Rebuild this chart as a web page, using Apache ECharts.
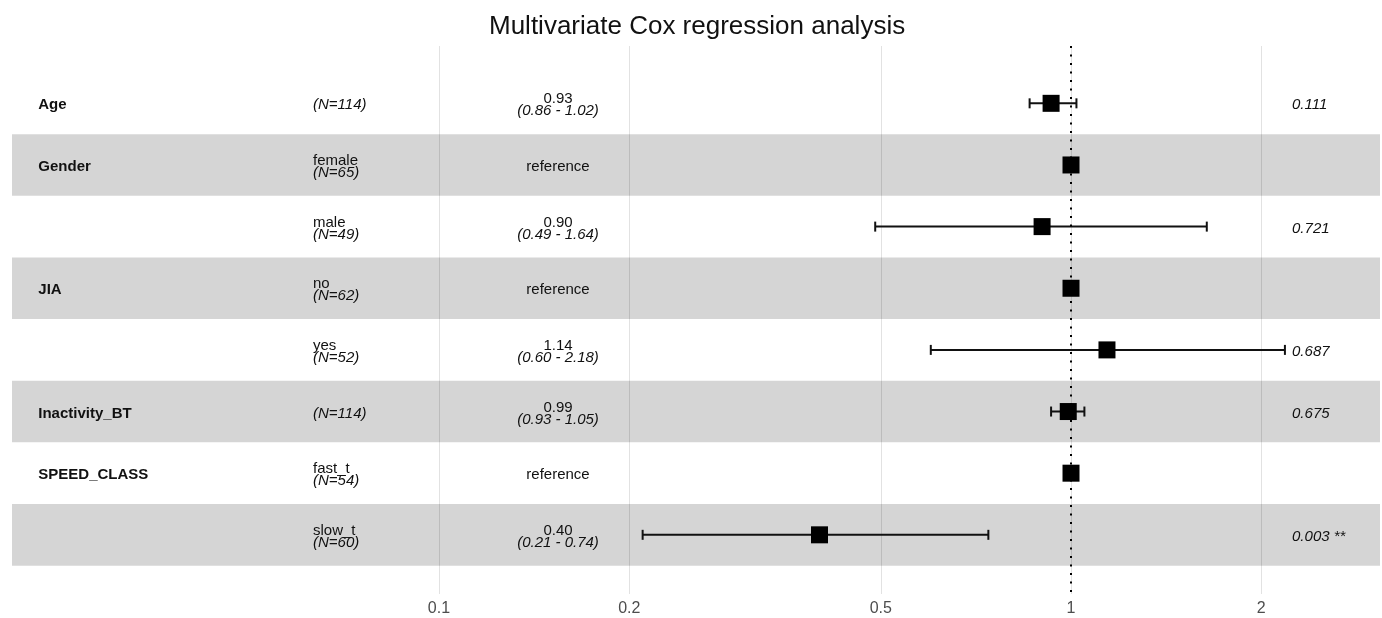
<!DOCTYPE html>
<html>
<head>
<meta charset="utf-8">
<script src="https://cdn.jsdelivr.net/npm/echarts@6/dist/echarts.min.js"></script>
<style>
  html, body { margin: 0; padding: 0; background: #fff; }
  #chart { width: 1382px; height: 618px; }
</style>
</head>
<body>
<div id="chart"></div>
<script>
// rows top to bottom
const variables = ['Age', 'Gender', '', 'JIA', '', 'Inactivity_BT', 'SPEED_CLASS', ''];
const levels = ['', 'female', 'male', 'no', 'yes', '', 'fast_t', 'slow_t'];
const counts = [114, 65, 49, 62, 52, 114, 54, 60];
const hazardRatios = [0.93, 1, 0.90, 1, 1.14, 0.99, 1, 0.40];
const ciLow = [0.86, null, 0.49, null, 0.60, 0.93, null, 0.21];
const ciHigh = [1.02, null, 1.64, null, 2.18, 1.05, null, 0.74];
const pValues = ['0.111', '', '0.721', '', '0.687', '0.675', '', '0.003 **'];
const xTicks = [0.1, 0.2, 0.5, 1, 2];

const FONT = '"Liberation Sans", Arial, Helvetica, sans-serif';
const log = v => Math.log10(v);

// text columns sit on the log axis, left of the plotted range (like ggforest)
const colName = -1.634;
const colLevel = -1.1994;
const colHR = -0.8117;
const colP = 0.3497;

const isRef = ciLow.map(v => v === null);

const nameData = variables.map((v, i) => ({ value: [colName, i], text: v }));
const levelData = levels.map((v, i) => ({
  value: [colLevel, i],
  text: v ? `{n|${v}}\n{i|(N=${counts[i]})}` : `{i|(N=${counts[i]})}`
}));
const hrData = hazardRatios.map((v, i) => ({
  value: [colHR, i],
  text: isRef[i] ? '{n|reference}' : `{n|${v.toFixed(2)}}\n{i|(${ciLow[i].toFixed(2)} - ${ciHigh[i].toFixed(2)})}`
}));
const pData = pValues.map((v, i) => ({ value: [colP, i], text: v }));

const ciData = [];
hazardRatios.forEach((v, i) => {
  if (!isRef[i]) ciData.push([log(ciLow[i]), log(ciHigh[i]), i]);
});
const pointData = hazardRatios.map((v, i) => [log(v), i]);

const bands = [];
for (let i = 1; i < variables.length; i += 2) {
  bands.push([{ yAxis: i - 0.5 }, { yAxis: i + 0.5 }]);
}

const richText = {
  n: { fontSize: 15, lineHeight: 12, color: '#111', fontFamily: FONT },
  i: { fontSize: 15, lineHeight: 12, color: '#111', fontStyle: 'italic', fontFamily: FONT }
};

const textSeries = (data, opts) => ({
  type: 'scatter',
  symbolSize: 0,
  silent: true,
  z: 5,
  itemStyle: { opacity: 1 },
  data: data,
  label: Object.assign({
    show: true,
    distance: 0,
    offset: [0, 2],
    formatter: p => p.data.text,
    rich: richText,
    fontFamily: FONT,
    fontSize: 15,
    color: '#111'
  }, opts)
});

const chart = echarts.init(document.getElementById('chart'));

chart.setOption({
  backgroundColor: '#fff',
  animation: false,
  title: {
    text: 'Multivariate Cox regression analysis',
    left: 484,
    top: 9,
    textStyle: { fontFamily: FONT, fontSize: 26, fontWeight: 'normal', color: '#111' }
  },
  grid: { left: 12, right: 2, top: 46, bottom: 24 },
  xAxis: {
    type: 'value',
    min: -1.6756,
    max: 0.4889,
    axisLine: { show: false },
    axisTick: { show: false, customValues: xTicks.map(log) },
    axisLabel: {
      customValues: xTicks.map(log),
      margin: 7,
      fontFamily: FONT,
      fontSize: 16,
      color: '#4d4d4d',
      formatter: v => {
        let best = xTicks[0];
        xTicks.forEach(t => { if (Math.abs(log(t) - v) < Math.abs(log(best) - v)) best = t; });
        return String(best);
      }
    },
    splitLine: { show: true, lineStyle: { color: '#e2e2e2', width: 1 } }
  },
  yAxis: {
    type: 'value',
    inverse: true,
    min: -0.93,
    max: 7.96,
    show: false,
    splitLine: { show: false }
  },
  series: [
    {
      type: 'custom',
      name: 'ci',
      z: 3,
      silent: true,
      encode: { x: [0, 1], y: 2 },
      data: ciData,
      renderItem: (params, api) => {
        const a = api.coord([api.value(0), api.value(2)]);
        const b = api.coord([api.value(1), api.value(2)]);
        const style = { stroke: '#111', lineWidth: 2 };
        return {
          type: 'group',
          children: [
            { type: 'line', shape: { x1: a[0], y1: a[1], x2: b[0], y2: b[1] }, style },
            { type: 'line', shape: { x1: a[0], y1: a[1] - 5, x2: a[0], y2: a[1] + 5 }, style },
            { type: 'line', shape: { x1: b[0], y1: b[1] - 5, x2: b[0], y2: b[1] + 5 }, style }
          ]
        };
      },
      markArea: {
        silent: true,
        itemStyle: { color: 'rgba(0,0,0,0.165)' },
        data: bands
      },
      markLine: {
        silent: true,
        symbol: 'none',
        label: { show: false },
        lineStyle: { color: '#000', width: 2, type: [2, 6.5] },
        data: [{ xAxis: 0 }]
      }
    },
    {
      type: 'scatter',
      name: 'hr',
      z: 4,
      silent: true,
      symbol: 'rect',
      symbolSize: 17,
      itemStyle: { color: '#000', opacity: 1 },
      data: pointData
    },
    textSeries(nameData, { position: 'right', fontWeight: 'bold' }),
    textSeries(levelData, { position: 'right' }),
    textSeries(hrData, { position: 'inside', align: 'center' }),
    textSeries(pData, { position: 'right', fontStyle: 'italic' })
  ]
});
</script>
</body>
</html>
